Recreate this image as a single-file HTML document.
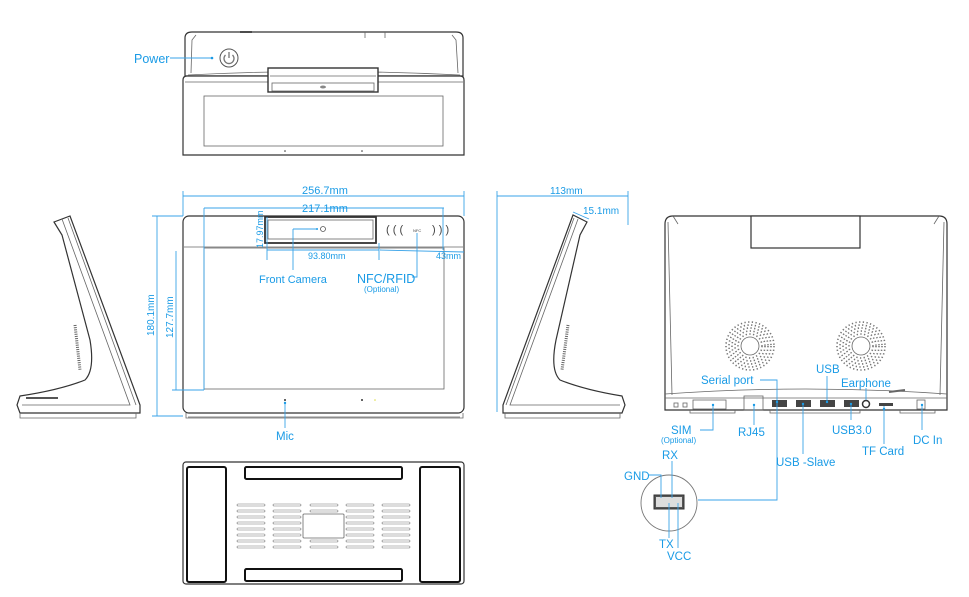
<!DOCTYPE html>
<html><head><meta charset="utf-8"><style>
html,body{margin:0;padding:0;background:#fff;width:969px;height:597px;overflow:hidden}
svg{display:block}
.o{fill:#fff;stroke:#333;stroke-width:1.2}
.t{fill:none;stroke:#666;stroke-width:0.8}
.k{fill:none;stroke:#111;stroke-width:2}
.b{fill:none;stroke:#3aa3e8;stroke-width:0.9}
.L{font-family:"Liberation Sans",sans-serif;fill:#1a9be6}
.sp{fill:none;stroke:#777;stroke-width:1.6;stroke-dasharray:1.3 2.4}
.v{fill:none;stroke:#777;stroke-width:2.6;stroke-linecap:round}
.v2{fill:none;stroke:#fff;stroke-width:1.4;stroke-linecap:round}
</style></head><body>
<svg width="969" height="597" viewBox="0 0 969 597" xmlns="http://www.w3.org/2000/svg">

<!-- TOP VIEW -->
<path class="o" d="M185,76 L185,38 Q185,32 192,32 L456,32 Q463,32 463,38 L463,76 Z"/>
<path class="t" d="M191,73 L192,40 L196,35 M458,73 L456,40 L452,35"/>
<line x1="240" y1="32" x2="252" y2="32" stroke="#222" stroke-width="1.5"/>
<line class="t" x1="365" y1="32" x2="365" y2="38"/><line class="t" x1="385" y1="32" x2="385" y2="38"/>
<circle cx="229" cy="58" r="9" fill="#fff" stroke="#555" stroke-width="1"/>
<path d="M225.5,55 A5,5 0 1 0 232.5,55" fill="none" stroke="#777" stroke-width="1.3"/>
<line x1="229" y1="52" x2="229" y2="58" stroke="#777" stroke-width="1.3"/>
<path class="o" d="M183,155 L183,80 Q183,76 187,76 L460,76 Q464,76 464,80 L464,155 Z"/>
<path class="t" d="M188,75 Q320,68 460,75 M185,82 L463,82"/>
<rect class="o" x="268" y="68" width="110" height="24" style="stroke-width:1.4"/>
<line class="t" x1="270" y1="76" x2="376" y2="76"/>
<rect class="t" x="272" y="83" width="102" height="8"/>
<ellipse cx="323" cy="87" rx="3" ry="1.5" fill="#888"/>
<rect class="t" x="204" y="96" width="239" height="50"/>
<circle cx="285" cy="151" r="0.8" fill="#333"/><circle cx="362" cy="151" r="0.8" fill="#333"/>
<line class="b" x1="170" y1="58" x2="212" y2="58"/><circle cx="212" cy="58" r="1.3" fill="#1a9be6"/>
<text class="L" x="134" y="63" font-size="12.5">Power</text>

<!-- FRONT VIEW -->
<rect class="o" x="183" y="216" width="281" height="197" rx="6"/>
<line class="t" x1="184" y1="247" x2="463" y2="247"/>
<rect class="t" x="204" y="248" width="240" height="141"/>
<rect class="o" x="265" y="217" width="111" height="26" style="stroke-width:1.8"/>
<rect class="t" x="268" y="220" width="105" height="19"/>
<circle cx="323" cy="229" r="2.5" fill="none" stroke="#555" stroke-width="0.8"/><circle cx="317" cy="229" r="1" fill="#1a9be6"/>
<text x="386" y="233" font-family="Liberation Sans,sans-serif" font-size="11" fill="#444">( ( (</text>
<text x="413" y="232" font-family="Liberation Sans,sans-serif" font-size="4" fill="#444">NFC</text>
<text x="432" y="233" font-family="Liberation Sans,sans-serif" font-size="11" fill="#444">) ) )</text>
<path class="t" d="M186,413 L186,418 L463,418 L463,413"/>
<line class="t" x1="188" y1="417" x2="460" y2="417"/>
<circle cx="285" cy="400" r="1" fill="#333"/><circle cx="362" cy="400" r="1" fill="#333"/><circle cx="375" cy="400" r="0.8" fill="#dd4"/>
<!-- dims -->
<line class="b" x1="183" y1="196" x2="464" y2="196"/>
<line class="b" x1="183" y1="191" x2="183" y2="216"/><line class="b" x1="464" y1="191" x2="464" y2="216"/>
<text class="L" x="302" y="194" font-size="11">256.7mm</text>
<line class="b" x1="204" y1="208" x2="444" y2="208"/>
<line class="b" x1="204" y1="208" x2="204" y2="390"/><line class="b" x1="443" y1="208" x2="443" y2="250"/>
<text class="L" x="302" y="212" font-size="11">217.1mm</text>
<line class="b" x1="267" y1="217" x2="267" y2="260"/><line class="b" x1="379" y1="243" x2="379" y2="260"/>
<line class="b" x1="267" y1="250" x2="379" y2="250"/>
<text class="L" x="308" y="259" font-size="9">93.80mm</text>
<text class="L" x="0" y="0" font-size="9" transform="translate(263,248) rotate(-90)">17.97mm</text>
<line class="b" x1="380" y1="250" x2="464" y2="252"/>
<text class="L" x="436" y="259" font-size="9">43mm</text>
<line class="b" x1="157" y1="216" x2="157" y2="416"/><line class="b" x1="152" y1="216" x2="183" y2="216"/><line class="b" x1="152" y1="416" x2="183" y2="416"/>
<text class="L" x="0" y="0" font-size="10" transform="translate(154,336) rotate(-90)">180.1mm</text>
<line class="b" x1="176" y1="251" x2="176" y2="390"/><line class="b" x1="172" y1="390" x2="204" y2="390"/>
<text class="L" x="0" y="0" font-size="10" transform="translate(173,338) rotate(-90)">127.7mm</text>
<line class="b" x1="293" y1="229" x2="316" y2="229"/><line class="b" x1="293" y1="229" x2="293" y2="270"/>
<text class="L" x="259" y="283" font-size="11">Front Camera</text>
<path class="b" d="M417,233 L417,277 L412,277"/>
<text class="L" x="357" y="283" font-size="12.5">NFC/RFID</text>
<text class="L" x="364" y="292" font-size="8">(Optional)</text>
<line class="b" x1="285" y1="402" x2="285" y2="428"/><circle cx="285" cy="403" r="1.2" fill="#1a9be6"/>
<text class="L" x="276" y="440" font-size="11.5">Mic</text>

<!-- LEFT SIDE -->
<path class="o" d="M54,222 L70,216 L140,405 L140,413 L20,413 L17,405 L20,396 Q60,390 85,380 Q95,370 90,340 L62,235 Z"/>
<path class="t" d="M62,219 L130,405 L22,405 M68,218 L136,405"/>
<path class="t" d="M26,398 L58,398" style="stroke-width:2;stroke:#555"/>
<path class="t" d="M20,413 L20,418 L136,418 L136,413"/>
<path d="M75,325 L80,370" stroke="#666" stroke-width="3" stroke-dasharray="1 1.2"/>

<!-- RIGHT SIDE -->
<path class="o" d="M587,222 L573,215 L503,405 L503,413 L622,413 L625,405 L622,396 Q585,390 560,380 Q550,370 556,340 L580,235 Z"/>
<path class="t" d="M578,219 L510,405 L620,405 M574,218 L506,405"/>
<path class="t" d="M505,413 L505,418 L620,418 L620,413"/>
<path d="M568,325 L562,370" stroke="#666" stroke-width="3" stroke-dasharray="1 1.2"/>
<line class="b" x1="497" y1="196" x2="628" y2="196"/><line class="b" x1="497" y1="191" x2="497" y2="412"/><line class="b" x1="628" y1="191" x2="628" y2="225"/>
<text class="L" x="550" y="194" font-size="10">113mm</text>
<line class="b" x1="573" y1="212" x2="589" y2="219"/>
<text class="L" x="583" y="214" font-size="10">15.1mm</text>

<!-- BACK VIEW -->
<path class="o" d="M665,410 L665,224 Q665,216 673,216 L939,216 Q947,216 947,224 L947,410 Z"/>
<path class="t" d="M668,222 L672,395 M944,222 L940,395 M673,216 L678,224 M939,216 L934,224 M665,394 Q806,384 947,394"/>
<rect class="o" x="751" y="216" width="109" height="32"/>
<g>
<circle cx="750" cy="346" r="9" class="t"/>
<circle cx="750" cy="346" r="12" class="sp"/><circle cx="750" cy="346" r="15" class="sp"/><circle cx="750" cy="346" r="18" class="sp"/><circle cx="750" cy="346" r="21" class="sp"/><circle cx="750" cy="346" r="24" class="sp"/>
<circle cx="861" cy="346" r="9" class="t"/>
<circle cx="861" cy="346" r="12" class="sp"/><circle cx="861" cy="346" r="15" class="sp"/><circle cx="861" cy="346" r="18" class="sp"/><circle cx="861" cy="346" r="21" class="sp"/><circle cx="861" cy="346" r="24" class="sp"/>
</g>
<line class="t" x1="665" y1="398" x2="947" y2="398"/>
<rect class="t" x="674" y="403" width="4" height="4"/><rect class="t" x="683" y="403" width="4" height="4"/>
<rect class="t" x="693" y="400" width="33" height="9"/>
<rect class="t" x="744" y="396" width="19" height="14"/>
<rect x="772" y="400" width="15" height="7" fill="#444"/><rect x="796" y="400" width="15" height="7" fill="#444"/>
<rect x="820" y="400" width="15" height="7" fill="#444"/><rect x="844" y="400" width="15" height="7" fill="#444"/>
<circle cx="866" cy="404" r="3.5" class="t" style="stroke:#333;stroke-width:1.5"/>
<rect x="879" y="403" width="14" height="3" fill="#444"/>
<rect class="t" x="917" y="400" width="8" height="9"/><line class="t" x1="889" y1="392" x2="905" y2="390" style="stroke-width:2"/>
<path class="t" d="M690,410 L690,413 L735,413 L735,410 M770,410 L770,413 L860,413 L860,410 M900,410 L900,413 L935,413 L935,410"/>
<!-- back labels -->
<path class="b" d="M713,405 L713,430 L700,430"/><circle cx="713" cy="405" r="1.2" fill="#1a9be6"/>
<text class="L" x="671" y="434" font-size="11.5">SIM</text><text class="L" x="661" y="443" font-size="8">(Optional)</text>
<path class="b" d="M754,405 L754,425"/><circle cx="754" cy="405" r="1.2" fill="#1a9be6"/>
<text class="L" x="738" y="436" font-size="11.5">RJ45</text>
<path class="b" d="M760,380 L777,380 L777,500 L698,500"/><circle cx="777" cy="402" r="1.2" fill="#1a9be6"/>
<text class="L" x="701" y="384" font-size="11.5">Serial port</text>
<line class="b" x1="803" y1="404" x2="803" y2="454"/><circle cx="803" cy="404" r="1.2" fill="#1a9be6"/>
<text class="L" x="776" y="466" font-size="11.5">USB -Slave</text>
<line class="b" x1="827" y1="376" x2="827" y2="402"/><circle cx="827" cy="402" r="1.2" fill="#1a9be6"/>
<text class="L" x="816" y="373" font-size="11.5">USB</text>
<line class="b" x1="866" y1="388" x2="866" y2="400"/>
<text class="L" x="841" y="387" font-size="11.5">Earphone</text>
<line class="b" x1="851" y1="404" x2="851" y2="420"/><circle cx="851" cy="404" r="1.2" fill="#1a9be6"/>
<text class="L" x="832" y="434" font-size="11.5">USB3.0</text>
<line class="b" x1="884" y1="406" x2="884" y2="444"/><circle cx="884" cy="409" r="1.2" fill="#1a9be6"/>
<text class="L" x="862" y="455" font-size="11.5">TF Card</text>
<line class="b" x1="922" y1="405" x2="922" y2="430"/><circle cx="922" cy="405" r="1.2" fill="#1a9be6"/>
<text class="L" x="913" y="444" font-size="11.5">DC In</text>

<!-- serial zoom -->
<circle cx="669" cy="503" r="28" fill="#fff" stroke="#777" stroke-width="0.9"/>
<rect x="654" y="495" width="30" height="14" fill="#555" stroke="#333"/>
<rect x="656" y="497" width="26" height="10" fill="#ddd"/>
<path class="b" d="M649,475 L661,475 L661,498"/>
<text class="L" x="624" y="480" font-size="11.5">GND</text>
<line class="b" x1="672" y1="461" x2="672" y2="498"/>
<text class="L" x="662" y="459" font-size="11.5">RX</text>
<line class="b" x1="669" y1="503" x2="669" y2="538"/>
<text class="L" x="659" y="548" font-size="11.5">TX</text>
<line class="b" x1="678" y1="503" x2="678" y2="548"/>
<text class="L" x="667" y="560" font-size="11.5">VCC</text>

<!-- BOTTOM VIEW -->
<rect class="o" x="183" y="462" width="281" height="122" rx="3"/>
<rect class="k" x="187" y="467" width="39" height="115" rx="2"/>
<rect class="k" x="420" y="467" width="40" height="115" rx="2"/>
<rect class="k" x="245" y="467" width="157" height="12" rx="1.5"/>
<rect class="k" x="245" y="569" width="157" height="12" rx="1.5"/>
<rect class="t" x="303" y="514" width="41" height="24" rx="1"/>
<g>
<path class="v" d="M238,505h26M238,511h26M238,517h26M238,523h26M238,529h26M238,535h26M238,541h26M238,547h26"/>
<path class="v2" d="M238,505h26M238,511h26M238,517h26M238,523h26M238,529h26M238,535h26M238,541h26M238,547h26"/>
<path class="v" d="M274,505h26M274,511h26M274,517h26M274,523h26M274,529h26M274,535h26M274,541h26M274,547h26"/>
<path class="v2" d="M274,505h26M274,511h26M274,517h26M274,523h26M274,529h26M274,535h26M274,541h26M274,547h26"/>
<path class="v" d="M311,505h26M311,511h26M311,541h26M311,547h26"/>
<path class="v2" d="M311,505h26M311,511h26M311,541h26M311,547h26"/>
<path class="v" d="M347,505h26M347,511h26M347,517h26M347,523h26M347,529h26M347,535h26M347,541h26M347,547h26"/>
<path class="v2" d="M347,505h26M347,511h26M347,517h26M347,523h26M347,529h26M347,535h26M347,541h26M347,547h26"/>
<path class="v" d="M383,505h26M383,511h26M383,517h26M383,523h26M383,529h26M383,535h26M383,541h26M383,547h26"/>
<path class="v2" d="M383,505h26M383,511h26M383,517h26M383,523h26M383,529h26M383,535h26M383,541h26M383,547h26"/>
</g>
</svg>
</body></html>
